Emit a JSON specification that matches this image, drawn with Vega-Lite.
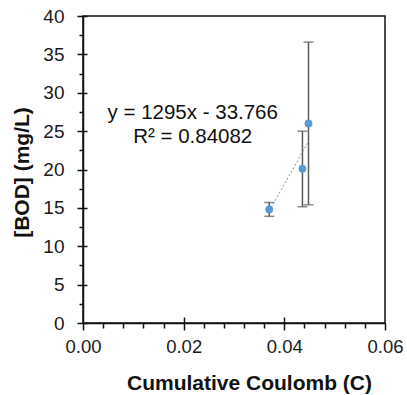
{
  "$schema": "https://vega.github.io/schema/vega-lite/v6.json",
  "autosize": "none",
  "width": 302,
  "height": 307,
  "padding": {"left": 83, "top": 16, "right": 22, "bottom": 72},
  "background": "white",
  "config": {
    "font": "Liberation Sans",
    "view": {"stroke": "#111111", "strokeWidth": 1.5},
    "axis": {"grid": false, "domainColor": "#111111", "tickColor": "#111111", "labelColor": "#1a1a1a", "titleColor": "#111111", "domainWidth": 1.5, "tickWidth": 1.5}
  },
  "datasets": {
    "pts": [
      {"coulomb": 0.0370, "bod": 14.8, "lo": 13.9, "hi": 15.7},
      {"coulomb": 0.0436, "bod": 20.1, "lo": 15.15, "hi": 25.0},
      {"coulomb": 0.0448, "bod": 26.0, "lo": 15.4, "hi": 36.6}
    ],
    "trend": [
      {"coulomb": 0.0370, "bod": 14.6},
      {"coulomb": 0.04475, "bod": 23.6}
    ],
    "eq": [
      {"coulomb": 0.0218, "bod": 27.4, "t": "y = 1295x - 33.766"},
      {"coulomb": 0.0218, "bod": 24.2, "t": "R² = 0.84082"}
    ]
  },
  "resolve": {"axis": {"x": "independent", "y": "independent"}},
  "layer": [
    {
      "data": {"name": "pts"},
      "mark": {"type": "rule", "color": "#5a5a5a", "strokeWidth": 1.5},
      "encoding": {
        "x": {"field": "coulomb", "type": "quantitative", "scale": {"domain": [0, 0.06], "nice": false, "zero": false},
          "axis": {"orient": "bottom", "values": [0, 0.02, 0.04, 0.06], "format": ".2f", "tickSize": 7, "labelFontSize": 18.5, "labelPadding": 7, "title": "Cumulative Coulomb (C)", "titleFontSize": 21, "titleFontWeight": "bold", "titleX": 166, "titleY": 66, "titleBaseline": "alphabetic", "titleAnchor": null, "titleAlign": "center", "labelFlush": false}},
        "y": {"field": "lo", "type": "quantitative", "scale": {"domain": [0, 40], "nice": false, "zero": false},
          "axis": {"orient": "left", "values": [0, 5, 10, 15, 20, 25, 30, 35, 40], "tickSize": 6, "labelFontSize": 19, "labelPadding": 13, "title": "[BOD] (mg/L)", "titleFontSize": 21, "titleFontWeight": "bold", "titleX": -61, "titleY": 156, "titleAngle": -90, "titleAlign": "center", "titleBaseline": "middle", "labelFlush": false}},
        "y2": {"field": "hi"}
      }
    },
    {
      "data": {"name": "pts"},
      "mark": {"type": "tick", "orient": "horizontal", "color": "#5a5a5a", "size": 10, "thickness": 1.5},
      "encoding": {
        "x": {"field": "coulomb", "type": "quantitative",
          "axis": {"orient": "bottom", "values": [0.004, 0.008, 0.012, 0.016, 0.024, 0.028, 0.032, 0.036, 0.044, 0.048, 0.052, 0.056], "tickSize": 5, "labels": false, "domain": false, "title": null}},
        "y": {"field": "lo", "type": "quantitative",
          "axis": {"orient": "left", "values": [2.5, 7.5, 12.5, 17.5, 22.5, 27.5, 32.5, 37.5], "tickSize": 4, "labels": false, "domain": false, "title": null}}
      }
    },
    {
      "data": {"name": "pts"},
      "mark": {"type": "tick", "orient": "horizontal", "color": "#5a5a5a", "size": 10, "thickness": 1.5},
      "encoding": {
        "x": {"field": "coulomb", "type": "quantitative",
          "axis": {"orient": "bottom", "values": [0.02, 0.04], "tickSize": -6, "labels": false, "domain": false, "title": null}},
        "y": {"field": "hi", "type": "quantitative",
          "axis": {"orient": "left", "values": [0, 5, 10, 15, 20, 25, 30, 35, 40], "tickSize": -4, "labels": false, "domain": false, "title": null}}
      }
    },
    {
      "data": {"name": "trend"},
      "mark": {"type": "line", "color": "#5b9bd5", "strokeWidth": 1, "strokeDash": [2, 2]},
      "encoding": {
        "x": {"field": "coulomb", "type": "quantitative", "axis": null},
        "y": {"field": "bod", "type": "quantitative", "axis": null}
      }
    },
    {
      "data": {"name": "pts"},
      "mark": {"type": "point", "shape": "circle", "filled": true, "size": 60, "color": "#5b9bd5", "opacity": 1},
      "encoding": {
        "x": {"field": "coulomb", "type": "quantitative", "axis": null},
        "y": {"field": "bod", "type": "quantitative", "axis": null}
      }
    },
    {
      "data": {"name": "eq"},
      "mark": {"type": "text", "fontSize": 20.5, "align": "center", "baseline": "middle", "color": "#111111"},
      "encoding": {
        "x": {"field": "coulomb", "type": "quantitative", "axis": null},
        "y": {"field": "bod", "type": "quantitative", "axis": null},
        "text": {"field": "t"}
      }
    }
  ]
}
